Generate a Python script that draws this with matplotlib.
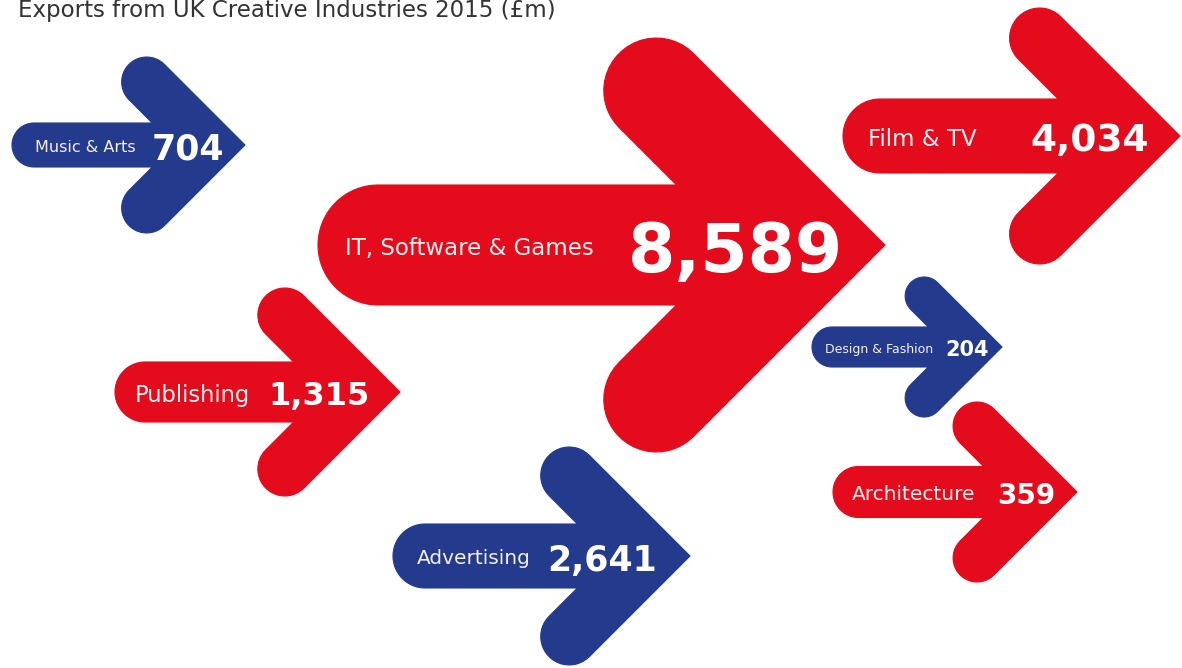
import numpy as np
import matplotlib
matplotlib.use("Agg")
import matplotlib.pyplot as plt
from matplotlib.patches import Polygon

# ── Data: UK creative industries exports, 2015 (£m) ──────────────────────────
categories = ["Music & Arts", "IT, Software & Games", "Film & TV", "Publishing",
              "Design & Fashion", "Architecture", "Advertising"]
values = [704, 8589, 4034, 1315, 204, 359, 2641]
palette = ["blue", "red", "red", "red", "blue", "red", "blue"]

# ── Layout (pixel space, y grows downwards) ──────────────────────────────────
x_left  = [12, 318, 843, 115, 812, 833, 393]
x_tip   = [245, 885, 1180, 400, 1002, 1077, 690]
y_mid   = [145, 245, 136, 392, 347, 492, 556]
shaft   = [44, 120, 74, 60, 40, 51, 64]
arm     = [50, 105, 60, 54, 38, 48, 57]
reach   = [88, 207, 128, 104, 70, 90, 109]
name_x  = [35, 345, 868, 135, 825, 852, 417]
value_x = [152, 628, 1030, 268, 945, 997, 547]
name_fs  = [11.5, 16.5, 16.5, 16.3, 9, 14.5, 14.5]
value_fs = [25, 49, 27, 23, 15, 20, 25]

COLORS = {"red": "#e30b1c", "blue": "#233a8d"}
W, H = 1182, 668


def arc(cx, cy, r, a0, a1, n=24):
    a = np.radians(np.linspace(a0, a1, n))
    return np.column_stack([cx + r * np.cos(a), cy + r * np.sin(a)])


def arrow_outline(xl, xt, yc, t, w, rch):
    """Rounded shaft + chevron head with round arm ends and a sharp tip."""
    s2 = np.sqrt(2)
    d = rch - w * (0.5 - 1 / (2 * s2))
    ax_, ay_ = xt - d, yc - d                     # outer end of top arm
    bx_, by_ = ax_ - w / s2, ay_ + w / s2         # inner end of top arm
    cx, cy = (ax_ + bx_) / 2, (ay_ + by_) / 2
    ny = yc - t / 2
    nx = bx_ + (ny - by_)                         # notch on shaft top
    top = [np.array([[xt, yc], [ax_, ay_]]),
           arc(cx, cy, w / 2, -45, -225),
           np.array([[bx_, by_], [nx, ny], [xl + t / 2, ny]]),
           arc(xl + t / 2, yc, t / 2, -90, -180)]
    top = np.vstack(top)
    bottom = top[::-1].copy()
    bottom[:, 1] = 2 * yc - bottom[:, 1]
    return np.vstack([top, bottom[1:-1]])


fig = plt.figure(figsize=(W / 100, H / 100), dpi=100)
ax = fig.add_axes([0, 0, 1, 1])
ax.set_xlim(0, W)
ax.set_ylim(H, 0)
ax.axis("off")

for i, (cat, val) in enumerate(zip(categories, values)):
    col = COLORS[palette[i]]
    pts = arrow_outline(x_left[i], x_tip[i], y_mid[i], shaft[i], arm[i], reach[i])
    ax.add_patch(Polygon(pts, closed=True, facecolor=col, edgecolor=col,
                         lw=0.8, joinstyle="round"))
    ax.text(name_x[i], y_mid[i] + 1, cat, color="#f6f0f0", fontsize=name_fs[i],
            ha="left", va="center_baseline", family="DejaVu Sans")
    ax.text(value_x[i], y_mid[i] + 1, f"{val:,}", color="white",
            fontsize=value_fs[i], fontweight="bold", ha="left",
            va="center_baseline", family="DejaVu Sans")

fig.text(18 / W, 1 - 17 / H, "Exports from UK Creative Industries 2015 (£m)",
         fontsize=16.5, color="#333333", ha="left", va="baseline")

fig.savefig("out.png", dpi=100, facecolor="white")
